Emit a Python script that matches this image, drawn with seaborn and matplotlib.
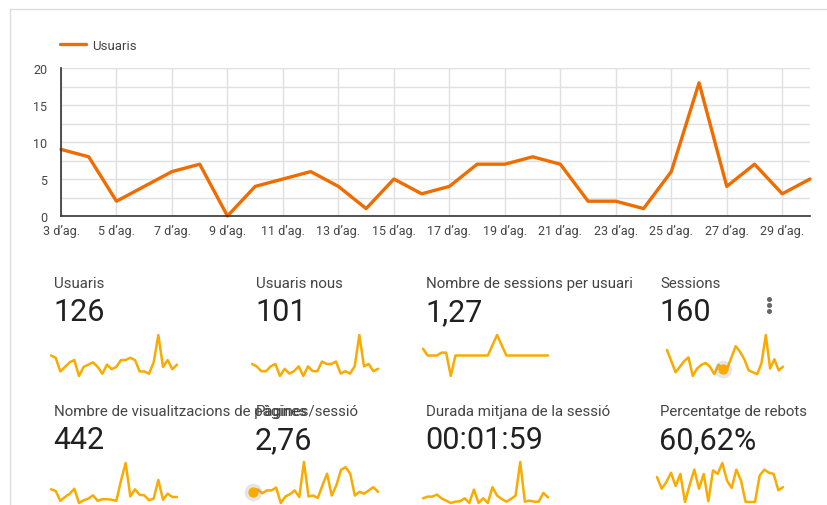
"""Google Analytics style overview: users line chart plus KPI sparklines."""

import numpy as np
import pandas as pd
import matplotlib
matplotlib.use("Agg")
import matplotlib.pyplot as plt
from matplotlib.lines import Line2D
from matplotlib.ticker import MultipleLocator, FixedLocator
import seaborn as sns

# --- data -----------------------------------------------------------------
days = list(range(3, 31))
usuaris = [9, 8, 2, 4, 6, 7, 0, 4, 5, 6, 4, 1, 5, 3, 4, 7, 7, 8, 7, 2, 2, 1, 6, 18, 4, 7, 3, 5]
usuaris_nous = [5, 4, 2, 2, 4, 5, 0, 3, 1, 2, 4, 0, 4, 2, 2, 6, 5, 5, 6, 1, 2, 1, 4, 17, 4, 5, 2, 3]
sessions_per_usuari = [1.33, 1.0, 1.0, 1.0, 1.14, 1.14, 0.0, 1.0, 1.0, 1.0, 1.0, 1.0, 1.0, 1.0,
                       1.0, 1.5, 2.0, 1.5, 1.0, 1.0, 1.0, 1.0, 1.0, 1.0, 1.0, 1.0, 1.0, 1.0]
sessions = [14, 8, 2, 5, 8, 10, 0, 4, 6, 7, 5, 1, 6, 4, 4, 10, 16, 13, 9, 3, 2, 1, 7, 22, 4, 9, 3, 5]
visualitzacions = [25, 22, 4, 11, 17, 26, 0, 5, 8, 14, 4, 7, 7, 6, 4, 41, 73, 12, 25, 15, 14, 5, 8, 42, 6, 17, 11, 11]
pagines_sessio = [2.4, 2.9, 2.1, 2.7, 2.7, 3.3, 0.0, 1.4, 1.9, 2.7, 1.3, 8.8, 1.4, 1.6,
                  1.1, 3.8, 6.3, 1.6, 3.8, 7.1, 7.7, 6.3, 1.6, 2.4, 2.0, 2.7, 3.4, 2.4]
durada = [98, 133, 133, 175, 98, 49, 0, 28, 35, 98, 0, 280, 0, 98,
          0, 329, 154, 84, 28, 84, 154, 854, 28, 49, 28, 28, 210, 119]
rebots = [64, 34, 51, 75, 41, 72, 0, 44, 83, 34, 72, 2, 81, 72,
          100, 55, 36, 83, 55, 0, 0, 0, 68, 83, 75, 72, 30, 38]

kpi_titles = ["Usuaris", "Usuaris nous", "Nombre de sessions per usuari", "Sessions",
              "Nombre de visualitzacions de pàgines", "Pàgines/sessió",
              "Durada mitjana de la sessió", "Percentatge de rebots"]
kpi_values = ["126", "101", "1,27", "160", "442", "2,76", "00:01:59", "60,62%"]
kpi_series = [usuaris, usuaris_nous, sessions_per_usuari, sessions,
              visualitzacions, pagines_sessio, durada, rebots]
# index of the highlighted (hover) point per sparkline, None if absent
kpi_marker = [None, None, None, 13, None, 0, None, None]

# --- style ----------------------------------------------------------------
W, H = 827, 506
sns.set_theme(style="white")
plt.rcParams["font.family"] = ["Roboto", "DejaVu Sans"]

ORANGE = "#ef6c00"
SPARK = "#f9ab00"
GRID = "#e0e0e0"
TEXT = "#444444"

fig = plt.figure(figsize=(W / 100, H / 100), dpi=100)
fig.patch.set_facecolor("white")


def px_axes(x0, y0, x1, y1):
    """Add axes from pixel box (top-left origin)."""
    return fig.add_axes([x0 / W, 1 - y1 / H, (x1 - x0) / W, (y1 - y0) / H])


def fx(x):
    return x / W


def fy(y):
    return 1 - y / H


# outer card border
fig.add_artist(Line2D([fx(10), fx(827)], [fy(10), fy(10)], color="#dddddd", lw=1))
fig.add_artist(Line2D([fx(10), fx(10)], [fy(10), fy(506)], color="#dddddd", lw=1))

# --- main line chart ------------------------------------------------------
df = pd.DataFrame({"dia": days, "Usuaris": usuaris})
ax = px_axes(61, 69, 810, 217)
sns.lineplot(data=df, x="dia", y="Usuaris", ax=ax, color=ORANGE, lw=2.4,
             label="Usuaris", clip_on=False)
ax.set_xlim(days[0], days[-1])
ax.set_ylim(0, 20)
ax.xaxis.set_major_locator(FixedLocator(days[::2]))
ax.set_xticklabels([f"{d} d\u2019ag." for d in days[::2]])
ax.yaxis.set_major_locator(MultipleLocator(5))
ax.yaxis.set_minor_locator(MultipleLocator(2.5))
ax.grid(True, which="major", axis="x", color=GRID, lw=1)
ax.grid(True, which="both", axis="y", color=GRID, lw=1)
ax.set_axisbelow(True)
ax.set_xlabel("")
ax.set_ylabel("")
for side in ["top", "right"]:
    ax.spines[side].set_visible(False)
for side in ["left", "bottom"]:
    ax.spines[side].set_color("#333333")
    ax.spines[side].set_linewidth(1.2)
ax.tick_params(axis="both", which="both", length=0, colors=TEXT, labelsize=9)
ax.tick_params(axis="y", pad=10)
ax.tick_params(axis="x", pad=6)
ax.legend(loc="center left", bbox_to_anchor=(fx(60), fy(46)), bbox_transform=fig.transFigure,
          frameon=False, fontsize=9.5, handlelength=2.0, handletextpad=0.45,
          borderpad=0, borderaxespad=0, labelcolor=TEXT)

# --- KPI tiles --------------------------------------------------------------
col_x = [54, 256, 426, 660]
row_title_y = [288, 416]
row_value_y = [321, 449]
spark_boxes = [
    (51, 336, 177, 377), (252, 336, 378, 377), (423, 336, 548, 377), (667, 336, 783, 377),
    (51, 464, 177, 504), (253, 463, 378, 504), (423, 463, 548, 504), (657, 464, 783, 503),
]

for i, (title, value, series) in enumerate(zip(kpi_titles, kpi_values, kpi_series)):
    r, c = divmod(i, 4)
    fig.text(fx(col_x[c]), fy(row_title_y[r]), title, fontsize=10.8, color=TEXT, va="baseline")
    fig.text(fx(col_x[c] - 1), fy(row_value_y[r]), value, fontsize=22, color="#212121",
             va="baseline")

    sax = px_axes(*spark_boxes[i])
    sdf = pd.DataFrame({"i": np.arange(len(series)), "v": series})
    sns.lineplot(data=sdf, x="i", y="v", ax=sax, color=SPARK, lw=1.8, clip_on=False)
    sax.set_xlim(0, len(series) - 1)
    sax.set_ylim(min(series), max(series))
    sax.axis("off")
    m = kpi_marker[i]
    if m is not None:
        sax.scatter([m], [series[m]], s=160, color="#999999", alpha=0.25, lw=0, clip_on=False,
                    zorder=4)
        sax.scatter([m], [series[m]], s=55, color=SPARK, lw=0, clip_on=False, zorder=5)

# three-dot menu icon
for yy in [300, 306, 312]:
    fig.add_artist(Line2D([fx(769)], [fy(yy)], marker="o", markersize=2.6,
                          color="#666666", lw=0))

fig.savefig("out.png", dpi=100, facecolor="white")
